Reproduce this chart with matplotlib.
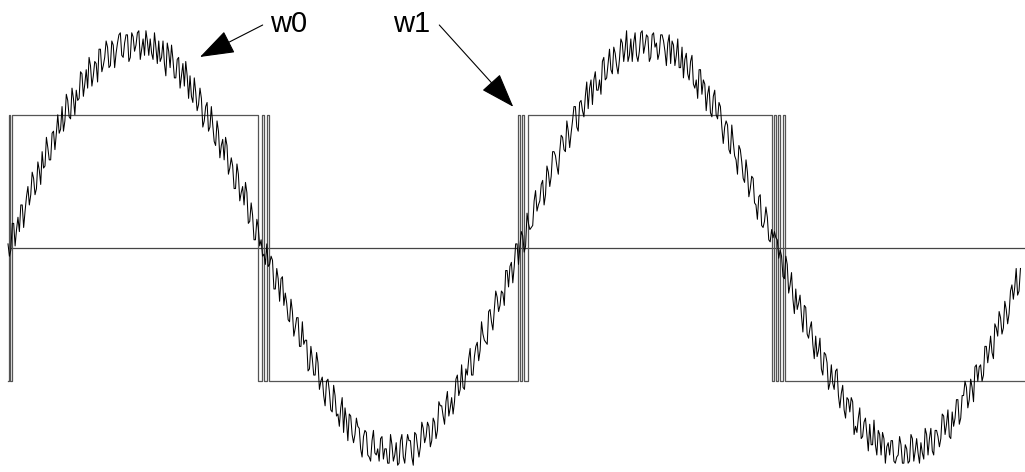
import numpy as np
import matplotlib
matplotlib.use("Agg")
import matplotlib.pyplot as plt

# noisy sine samples (peak ~100)
# even degrees: 0, 2, 4, ... 712
signal_even = [
    2, -1, 12, 9, 8, 21, 18, 30, 26, 34,
    29, 38, 47, 40, 49, 43, 57, 56, 56, 69,
    62, 72, 63, 73, 77, 73, 85, 80, 78, 89,
    84, 90, 97, 86, 93, 98, 89, 99, 95, 104,
    94, 100, 104, 93, 103, 99, 106, 97, 94, 101,
    102, 92, 98, 101, 93, 90, 100, 88, 92, 83,
    93, 84, 79, 84, 84, 71, 76, 70, 73, 62,
    71, 59, 60, 50, 57, 50, 43, 50, 39, 40,
    29, 36, 27, 21, 27, 13, 16, 4, 10, 4,
    -3, 2, -8, -6, -20, -15, -15, -28, -27, -36,
    -31, -39, -34, -48, -47, -45, -59, -54, -62, -56,
    -65, -72, -65, -70, -80, -72, -81, -78, -90, -84,
    -81, -91, -91, -87, -98, -92, -90, -102, -94, -100,
    -98, -93, -103, -98, -105, -96, -101, -106, -94, -102,
    -97, -94, -102, -90, -97, -97, -88, -92, -87, -94,
    -85, -89, -77, -82, -75, -82, -73, -75, -62, -69,
    -68, -59, -54, -62, -53, -46, -50, -42, -46, -31,
    -36, -30, -24, -28, -22, -11, -19, -7, -9, 2,
    1, 6, 1, 12, 10, 23, 18, 23, 33, 26,
    37, 35, 47, 40, 47, 54, 47, 57, 56, 69,
    59, 71, 67, 74, 68, 82, 82, 77, 82, 91,
    82, 90, 87, 98, 89, 92, 100, 97, 91, 102,
    100, 94, 96, 106, 99, 103, 93, 105, 100, 95,
    104, 96, 100, 90, 99, 94, 88, 98, 92, 85,
    91, 80, 82, 87, 75, 80, 75, 66, 74, 65,
    71, 59, 59, 60, 46, 52, 43, 50, 42, 32,
    37, 29, 34, 21, 25, 11, 13, 15, 3, 5,
    5, -5, -4, -15, -8, -18, -25, -20, -27, -33,
    -28, -42, -39, -47, -43, -50, -59, -51, -56, -66,
    -66, -60, -72, -71, -79, -73, -80, -75, -87, -83,
    -93, -85, -91, -86, -96, -96, -89, -101, -93, -97,
    -101, -94, -105, -101, -96, -105, -98, -104, -93, -99,
    -100, -95, -103, -91, -93, -99, -89, -92, -93, -82,
    -86, -92, -80, -83, -74, -83, -72, -68, -74, -68,
    -58, -65, -57, -62, -48, -50, -51, -37, -43, -34,
    -39, -30, -32, -18, -19, -23, -10,
]
# odd degrees: 1, 3, 5, ... 711
signal_odd = [
    -4, 12, 1, 15, 21, 10, 25, 21, 37, 26,
    42, 31, 39, 54, 43, 56, 48, 65, 58, 57,
    75, 64, 78, 65, 72, 86, 74, 87, 93, 79,
    91, 81, 97, 89, 101, 88, 101, 88, 100, 105,
    93, 104, 91, 105, 96, 105, 92, 102, 106, 94,
    95, 105, 90, 91, 101, 84, 96, 99, 83, 92,
    78, 90, 91, 73, 74, 83, 67, 78, 59, 69,
    57, 69, 52, 62, 44, 53, 54, 36, 44, 29,
    41, 23, 30, 32, 12, 22, 4, 14, 1, -4,
    -8, -9, -4, -20, -10, -26, -14, -22, -35, -25,
    -43, -34, -48, -36, -45, -60, -48, -62, -51, -69,
    -63, -77, -64, -79, -67, -82, -87, -73, -78, -94,
    -82, -95, -83, -88, -102, -89, -101, -104, -89, -101,
    -104, -92, -98, -105, -91, -104, -95, -105, -91, -105,
    -91, -94, -106, -91, -102, -85, -95, -85, -97, -83,
    -93, -75, -77, -86, -70, -78, -81, -64, -72, -57,
    -69, -62, -49, -62, -48, -55, -36, -45, -47, -30,
    -40, -21, -31, -21, -28, -11, -9, -17, 2, -8,
    8, -2, 17, 9, 11, 28, 21, 31, 21, 40,
    30, 47, 45, 36, 55, 48, 62, 49, 62, 69,
    57, 72, 64, 81, 78, 70, 86, 77, 75, 93,
    83, 97, 85, 95, 85, 102, 91, 106, 94, 91,
    105, 91, 105, 95, 104, 91, 104, 98, 92, 104,
    101, 89, 104, 101, 89, 102, 88, 83, 95, 82,
    94, 78, 73, 87, 82, 67, 79, 64, 77, 63,
    69, 51, 62, 48, 60, 45, 36, 48, 34, 43,
    25, 35, 22, 14, 26, 10, 20, 4, 9, 8,
    4, -1, -14, -4, -22, -12, -32, -30, -23, -41,
    -29, -44, -36, -54, -53, -44, -62, -52, -69, -57,
    -69, -59, -78, -67, -83, -74, -73, -91, -90, -78,
    -92, -83, -99, -96, -84, -101, -91, -90, -105, -95,
    -94, -104, -102, -92, -105, -96, -105, -91, -104, -93,
    -105, -100, -88, -101, -88, -101, -89, -97, -81, -91,
    -79, -93, -87, -74, -86, -72, -65, -78, -64, -75,
    -57, -58, -65, -48, -56, -43, -54, -39, -31, -42,
    -26, -37, -21, -25, -10, -21,
]

# comparator output: switch times (deg) and levels
sq_t = [0, 0.6, 1.4, 2.6, 175.8, 178.8, 180.2, 182.3, 183.5,
        358.9, 360.1, 361.7, 363.1, 365.5,
        537.0, 538.5, 540.0, 541.3, 542.9, 544.8, 546.4, 716]
sq_v = [-65, 65, -65, 65, -65, 65, -65, 65, -65,
        65, -65, 65, -65, 65,
        -65, 65, -65, 65, -65, 65, -65, -65]

labels = ["w0", "w1"]

t = np.concatenate([np.arange(len(signal_even)) * 2, np.arange(len(signal_odd)) * 2 + 1])
y = np.concatenate([signal_even, signal_odd])
order = np.argsort(t)
t, y = t[order], y[order]

fig = plt.figure(figsize=(10.25, 4.72), dpi=100)
ax = fig.add_axes([0, 0, 1, 1])
ax.axis("off")

ax.hlines(0, 0, 716, color="#444444", lw=0.9)
ax.step(sq_t, sq_v, where="post", color="#555555", lw=0.9)
ax.plot(t, y, color="black", lw=0.75)

ax.set_xlim(-5.63, 715.2)
ax.set_ylim(-109.3, 121.0)

arrow = dict(arrowstyle="-|>,head_length=1.0,head_width=0.35", color="black",
             lw=0.8, mutation_scale=22, shrinkA=0, shrinkB=0)
ax.text(184.4, 105.4, labels[0], fontsize=21, family="Liberation Sans", va="baseline")
ax.annotate("", xy=(135.0, 93.2), xytext=(179.1, 108.8), arrowprops=arrow)
ax.text(270.7, 105.4, labels[1], fontsize=21, family="Liberation Sans", va="baseline")
ax.annotate("", xy=(355.3, 68.9), xytext=(303.3, 108.8), arrowprops=arrow)

fig.savefig("out.png", dpi=100)
